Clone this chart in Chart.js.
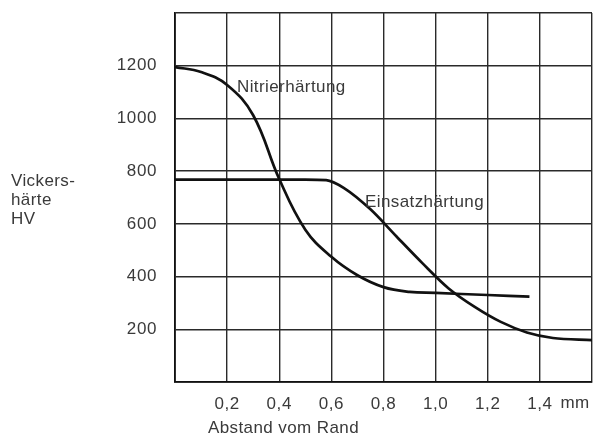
<!DOCTYPE html>
<html>
<head>
<meta charset="utf-8">
<script src="https://cdn.jsdelivr.net/npm/chart.js@4/dist/chart.umd.min.js"></script>
<style>
html,body{margin:0;padding:0;background:#fff;}
#wrap{width:595px;height:438px;position:relative;}
</style>
</head>
<body>
<div id="wrap"><canvas id="c" width="595" height="438"></canvas></div>
<script>
// Distance from edge (mm)
const nitrierX = [0, 0.1, 0.2, 0.3, 0.4, 0.5, 0.6, 0.7, 0.8, 0.9, 1.0, 1.2, 1.36];
// Vickers hardness HV
const nitrierY = [1195, 1176, 1127, 1012, 770, 578, 475, 405, 360, 342, 338, 330, 324];

const einsatzX = [0, 0.5, 0.58, 0.65, 0.75, 0.85, 0.95, 1.05, 1.15, 1.25, 1.35, 1.45, 1.6];
const einsatzY = [768, 768, 766, 735, 655, 552, 450, 355, 285, 228, 188, 167, 159];

const seriesNames = ['Nitrierhärtung', 'Einsatzhärtung'];
const yTitleLines = ['Vickers-', 'härte', 'HV'];
const xTitle = 'Abstand vom Rand';
const xUnit = 'mm';
const yTicks = [200, 400, 600, 800, 1000, 1200];
const xTicks = [0.2, 0.4, 0.6, 0.8, 1.0, 1.2, 1.4];

const FONT = '"Liberation Sans", Arial, Helvetica, sans-serif';
const FS = 17;
const TXT = '#3a3a3a';
const GRID = '#2a2a2a';

function pts(xs, ys){ return xs.map((x,i)=>({x:x, y:ys[i]})); }

const spacingPlugin = {
  id: 'spacing',
  beforeDraw(chart){ chart.ctx.letterSpacing = '0.6px'; }
};

const textPlugin = {
  id: 'texts',
  afterDraw(chart){
    const ctx = chart.ctx;
    ctx.save();
    ctx.letterSpacing = '0.4px';
    ctx.fillStyle = TXT;
    ctx.font = FS + 'px ' + FONT;
    ctx.textBaseline = 'middle';
    ctx.textAlign = 'left';
    yTitleLines.forEach((t,i)=>{ ctx.fillText(t, 11, 181 + i*19); });
    ctx.fillText(seriesNames[0], 237, 87);
    ctx.fillText(seriesNames[1], 365, 202);
    ctx.fillText(xTitle, 208, 428);
    ctx.textAlign = 'center';
    ctx.fillText(xUnit, 575, 403);
    ctx.restore();
  }
};

new Chart(document.getElementById('c'), {
  type: 'scatter',
  data: {
    datasets: [
      { label: seriesNames[0], data: pts(nitrierX, nitrierY), showLine: true, borderColor: '#111', borderWidth: 2.7, pointRadius: 0, tension: 0.4, fill: false },
      { label: seriesNames[1], data: pts(einsatzX, einsatzY), showLine: true, borderColor: '#111', borderWidth: 2.7, pointRadius: 0, cubicInterpolationMode: 'monotone', fill: false }
    ]
  },
  options: {
    responsive: false,
    animation: false,
    devicePixelRatio: 1,
    layout: { padding: { left: 0, right: 3, top: 13, bottom: 0 } },
    plugins: { legend: { display: false }, tooltip: { enabled: false }, title: { display: false } },
    scales: {
      x: {
        type: 'linear', min: 0, max: 1.6,
        afterBuildTicks(scale){ scale.ticks = [0,0.2,0.4,0.6,0.8,1.0,1.2,1.4,1.6].map(v=>({value:v})); },
        afterFit(scale){ scale.height = 56; scale.paddingLeft = 0; scale.paddingRight = 0; },
        grid: { color: GRID, lineWidth: 1.4, drawTicks: false },
        border: { color: '#111', width: 1.8 },
        ticks: {
          padding: 12, color: TXT, font: { family: FONT, size: FS }, maxRotation: 0, autoSkip: false,
          callback(v){ const r = Math.round(v*10)/10; return xTicks.some(t=>Math.abs(t-r)<1e-6) ? r.toFixed(1).replace('.', ',') : ''; }
        }
      },
      y: {
        type: 'linear', min: 0, max: 1400,
        afterBuildTicks(scale){ scale.ticks = [0,200,400,600,800,1000,1200,1400].map(v=>({value:v})); },
        afterFit(scale){ scale.width = 175; scale.paddingTop = 0; scale.paddingBottom = 0; },
        grid: { color: GRID, lineWidth: 1.4, drawTicks: false },
        border: { color: '#111', width: 1.8 },
        ticks: {
          padding: 18, color: TXT, font: { family: FONT, size: FS }, autoSkip: false,
          callback(v){ return yTicks.includes(v) ? String(v) : ''; }
        }
      }
    }
  },
  plugins: [spacingPlugin, textPlugin]
});
</script>
</body>
</html>
